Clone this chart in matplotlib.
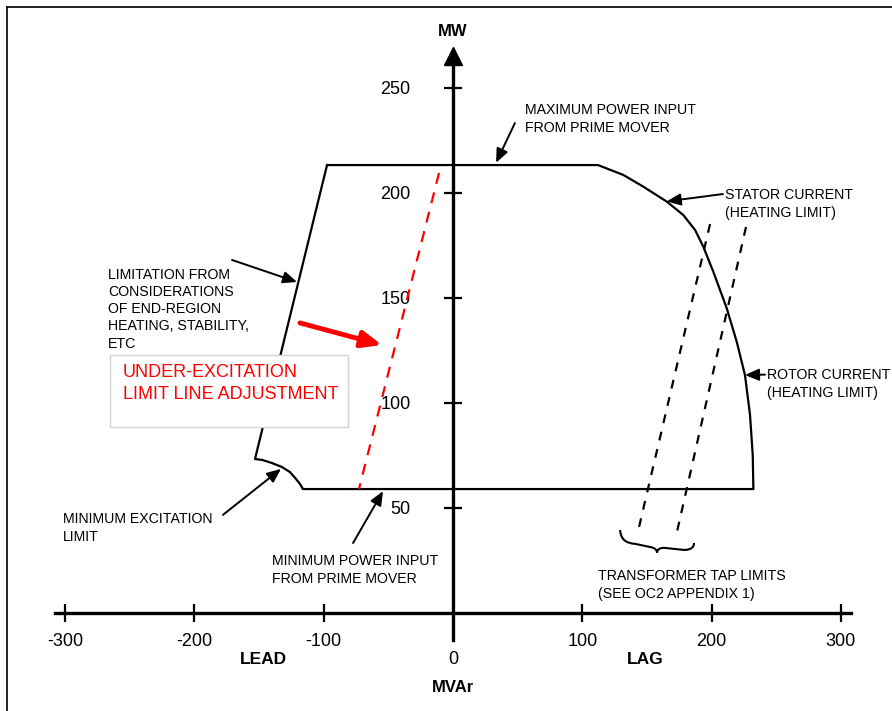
import matplotlib
matplotlib.use('Agg')
import matplotlib.pyplot as plt
from matplotlib.patches import Rectangle, PathPatch
from matplotlib.path import Path
from matplotlib.lines import Line2D

plt.rcParams['font.family'] = ['Liberation Sans', 'DejaVu Sans']
plt.rcParams['axes.unicode_minus'] = False

# capability chart outline, (MVAr, MW)
top_q = [-97.4, 112.1]
top_p = [213.3, 213.3]
stator_q = [131.7, 147.2, 165.3, 178.1, 187.2, 193.6]
stator_p = [208.6, 203.0, 195.9, 189.5, 182.4, 174.4]
rotor_q = [201.3, 211.7, 219.4, 225.8, 229.7, 231.8, 232.3]
rotor_p = [162.5, 145.1, 129.2, 113.3, 94.3, 75.2, 59.0]
minpower_q = [-116.0]
minpower_p = [59.0]
minexc_q = [-118.3, -121.4, -126.1, -132.3, -140.0, -147.7, -153.1]
minexc_p = [61.4, 63.8, 67.1, 69.5, 71.4, 72.9, 73.3]
endregion_q = [-97.4]
endregion_p = [213.3]

# under-excitation limit adjustment line (red) and transformer tap limits
uel_q = [-10.8, -72.7]
uel_p = [209.5, 59.0]
tap1_q = [198.8, 143.0]
tap1_p = [185.2, 38.6]
tap2_q = [226.6, 173.0]
tap2_p = [183.8, 38.0]

x_ticks = [-300, -200, -100, 100, 200, 300]
y_ticks = [50, 100, 150, 200, 250]

fig = plt.figure(figsize=(8.92, 7.11), dpi=100)
ax = fig.add_axes([0, 0, 1, 1])
ax.set_xlim(-350.3, 339.5)
ax.set_ylim(-46.7, 291.9)

# axes through the origin
for s in ['top', 'right']:
    ax.spines[s].set_visible(False)
ax.spines['left'].set_position('zero')
ax.spines['bottom'].set_position('zero')
ax.spines['left'].set_bounds(-12.9, 262)
ax.spines['bottom'].set_bounds(-307.8, 307.8)
for s in ['left', 'bottom']:
    ax.spines[s].set_linewidth(2.4)
ax.set_xticks(x_ticks)
ax.set_yticks(y_ticks)
ax.tick_params(axis='both', direction='inout', length=13, width=1.6, labelsize=13)
ax.tick_params(axis='x', pad=8)
ax.tick_params(axis='y', pad=24)
ax.plot([0], [265], marker='^', markersize=12.5, color='black', clip_on=False)

ax.text(0, 276.7, 'MW', ha='center', va='center', fontsize=12, fontweight='bold')
ax.text(0, -35.7, 'MVAr', ha='center', va='center', fontsize=12, fontweight='bold')
ax.text(0, -22.4, '0', ha='center', va='center', fontsize=13)
ax.text(-146.2, -22.4, 'LEAD', ha='center', va='center', fontsize=12.5, fontweight='bold')
ax.text(148.5, -22.4, 'LAG', ha='center', va='center', fontsize=12.5, fontweight='bold')

# outline
q = top_q + stator_q + rotor_q + minpower_q + minexc_q + endregion_q
p = top_p + stator_p + rotor_p + minpower_p + minexc_p + endregion_p
ax.plot(q, p, color='black', lw=1.6, zorder=3)

ax.plot(uel_q, uel_p, color='red', lw=1.6, dashes=(5, 4), zorder=3)
ax.plot(tap1_q, tap1_p, color='black', lw=1.6, dashes=(4, 4), zorder=3)
ax.plot(tap2_q, tap2_p, color='black', lw=1.6, dashes=(4, 4), zorder=3)

# brace under the tap limit lines
brace = [(129.2, 39.5), (129.9, 34.8), (133.8, 33.3), (140.8, 32.9),
         (152.4, 31.4),
         (156.2, 31.0), (157.8, 30.0), (157.8, 28.6),
         (157.8, 30.0), (159.4, 31.0), (163.3, 31.0),
         (178.7, 30.0),
         (183.3, 30.0), (186.4, 31.0), (186.4, 33.3)]
codes = [Path.MOVETO] + [Path.CURVE4] * 3 + [Path.LINETO] + [Path.CURVE4] * 6 \
    + [Path.LINETO] + [Path.CURVE4] * 3
ax.add_patch(PathPatch(Path(brace, codes), fill=False, lw=1.5, color='black'))

# box with red note (va='baseline' sits on the last line)
ax.add_patch(Rectangle((-265.3, 88.6), 184.1, 34.3, facecolor='white',
                       edgecolor='#d4d4d4', lw=1, zorder=4))
ax.text(-255.2, 101.7, 'UNDER-EXCITATION\nLIMIT LINE ADJUSTMENT', color='red',
        fontsize=13, va='baseline', ha='left', linespacing=1.4, zorder=5)
ax.annotate('', xy=(-54.9, 127.6), xytext=(-118.3, 138.1),
            arrowprops=dict(arrowstyle='-|>,head_length=0.6,head_width=0.25',
                            color='red', lw=3.5, mutation_scale=20,
                            shrinkA=0, shrinkB=0))

labels = [
    ('MAXIMUM POWER INPUT\nFROM PRIME MOVER', 55.7, 229.2, (47.9, 233.3), (33.3, 214.4)),
    ('STATOR CURRENT\n(HEATING LIMIT)', 210.4, 188.7, (208.8, 199.5), (165.3, 196.0)),
    ('ROTOR CURRENT\n(HEATING LIMIT)', 242.8, 103.0, (241.3, 113.5), (225.8, 113.3)),
    ('LIMITATION FROM\nCONSIDERATIONS\nOF END-REGION\nHEATING, STABILITY,\nETC',
     -266.8, 126.3, (-170.9, 168.1), (-120.6, 157.6)),
    ('MINIMUM EXCITATION\nLIMIT', -301.6, 34.4, (-177.9, 46.7), (-133.0, 68.6)),
    ('MINIMUM POWER INPUT\nFROM PRIME MOVER', -140.0, 14.4, (-77.3, 33.3), (-54.1, 58.0)),
    ('TRANSFORMER TAP LIMITS\n(SEE OC2 APPENDIX 1)', 112.1, 7.3, None, None),
]
for txt, tx, ty, tail, tip in labels:
    ax.text(tx, ty, txt, fontsize=10.2, va='baseline', ha='left', linespacing=1.3)
    if tail is not None:
        ax.annotate('', xy=tip, xytext=tail,
                    arrowprops=dict(arrowstyle='-|>,head_length=0.7,head_width=0.3',
                                    color='black', lw=1.4, mutation_scale=12,
                                    shrinkA=0, shrinkB=0))

# page frame
fig.add_artist(Line2D([7 / 892, 7 / 892], [0, 1 - 7 / 711], color='black', lw=1.2))
fig.add_artist(Line2D([7 / 892, 1], [1 - 7 / 711, 1 - 7 / 711], color='black', lw=1.2))

fig.savefig('out.png', dpi=100)
